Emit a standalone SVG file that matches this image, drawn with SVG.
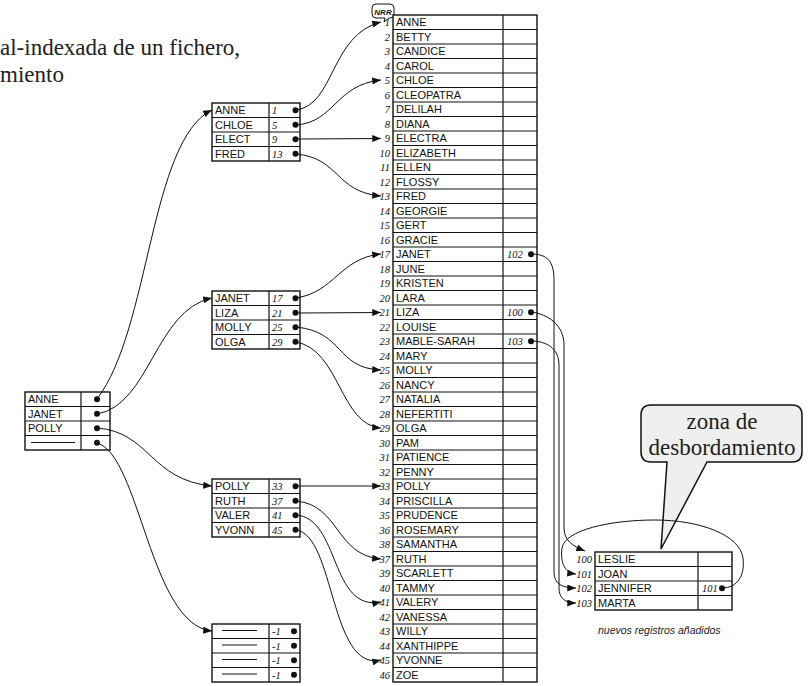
<svg xmlns="http://www.w3.org/2000/svg" width="812" height="686" viewBox="0 0 812 686">
<defs>
<marker id="ah" viewBox="0 0 10 8" refX="10" refY="4" markerWidth="9" markerHeight="7" orient="auto" markerUnits="userSpaceOnUse"><path d="M0,0 L10,4 L0,8 z" fill="#111"/></marker>
<style>
.t{fill:#fff;stroke:#111;stroke-width:1.4}
.l{fill:none;stroke:#111;stroke-width:1.2}
.nm{font-family:"Liberation Sans",Arial,sans-serif;font-size:11px;fill:#111}
.nu{font-family:"Liberation Serif","Times New Roman",serif;font-style:italic;font-size:10.5px;fill:#111}
.ne{text-anchor:end}
.c{fill:none;stroke:#111;stroke-width:1;marker-end:url(#ah)}
.d{fill:#111}
.big{font-family:"Liberation Serif","Times New Roman",serif;font-size:23px;fill:#222}
</style>
</defs>
<rect width="812" height="686" fill="#fff"/>
<g id="title">
<text class="big" x="0" y="55">al-indexada de un fichero,</text>
<text class="big" x="0" y="82">miento</text>
</g>
<g id="nrr">
<path d="M376,4 H390 Q394,4 394,8 V14 Q394,18 390,18 H389 L384,22 L385,18 H376 Q372,18 372,14 V8 Q372,4 376,4 Z" fill="#fff" stroke="#111" stroke-width="1"/>
<text x="383" y="14.5" text-anchor="middle" style="font-family:'Liberation Sans',Arial,sans-serif;font-size:8px;font-weight:bold;font-style:italic" fill="#111">NRR</text>
</g>
<g id="main">
<rect class="t" x="393" y="15" width="144" height="667"/>
<path class="l" d="M503,15 V682 M393,29.5 H537 M393,44 H537 M393,58.5 H537 M393,73 H537 M393,87.5 H537 M393,102 H537 M393,116.5 H537 M393,131 H537 M393,145.5 H537 M393,160 H537 M393,174.5 H537 M393,189 H537 M393,203.5 H537 M393,218 H537 M393,232.5 H537 M393,247 H537 M393,261.5 H537 M393,276 H537 M393,290.5 H537 M393,305 H537 M393,319.5 H537 M393,334 H537 M393,348.5 H537 M393,363 H537 M393,377.5 H537 M393,392 H537 M393,406.5 H537 M393,421 H537 M393,435.5 H537 M393,450 H537 M393,464.5 H537 M393,479 H537 M393,493.5 H537 M393,508 H537 M393,522.5 H537 M393,537 H537 M393,551.5 H537 M393,566 H537 M393,580.5 H537 M393,595 H537 M393,609.5 H537 M393,624 H537 M393,638.5 H537 M393,653 H537 M393,667.5 H537"/>
<g class="nu ne">
<text x="390" y="26">1</text><text x="390" y="40.5">2</text><text x="390" y="55">3</text><text x="390" y="69.5">4</text><text x="390" y="84">5</text><text x="390" y="98.5">6</text><text x="390" y="113">7</text><text x="390" y="127.5">8</text><text x="390" y="142">9</text><text x="390" y="156.5">10</text><text x="390" y="171">11</text><text x="390" y="185.5">12</text><text x="390" y="200">13</text><text x="390" y="214.5">14</text><text x="390" y="229">15</text><text x="390" y="243.5">16</text><text x="390" y="258">17</text><text x="390" y="272.5">18</text><text x="390" y="287">19</text><text x="390" y="301.5">20</text><text x="390" y="316">21</text><text x="390" y="330.5">22</text><text x="390" y="345">23</text><text x="390" y="359.5">24</text><text x="390" y="374">25</text><text x="390" y="388.5">26</text><text x="390" y="403">27</text><text x="390" y="417.5">28</text><text x="390" y="432">29</text><text x="390" y="446.5">30</text><text x="390" y="461">31</text><text x="390" y="475.5">32</text><text x="390" y="490">33</text><text x="390" y="504.5">34</text><text x="390" y="519">35</text><text x="390" y="533.5">36</text><text x="390" y="548">38</text><text x="390" y="562.5">37</text><text x="390" y="577">39</text><text x="390" y="591.5">40</text><text x="390" y="606">41</text><text x="390" y="620.5">42</text><text x="390" y="635">43</text><text x="390" y="649.5">44</text><text x="390" y="664">45</text><text x="390" y="678.5">46</text>
</g>
<g class="nm">
<text x="396" y="26">ANNE</text><text x="396" y="40.5">BETTY</text><text x="396" y="55">CANDICE</text><text x="396" y="69.5">CAROL</text><text x="396" y="84">CHLOE</text><text x="396" y="98.5">CLEOPATRA</text><text x="396" y="113">DELILAH</text><text x="396" y="127.5">DIANA</text><text x="396" y="142">ELECTRA</text><text x="396" y="156.5">ELIZABETH</text><text x="396" y="171">ELLEN</text><text x="396" y="185.5">FLOSSY</text><text x="396" y="200">FRED</text><text x="396" y="214.5">GEORGIE</text><text x="396" y="229">GERT</text><text x="396" y="243.5">GRACIE</text><text x="396" y="258">JANET</text><text x="396" y="272.5">JUNE</text><text x="396" y="287">KRISTEN</text><text x="396" y="301.5">LARA</text><text x="396" y="316">LIZA</text><text x="396" y="330.5">LOUISE</text><text x="396" y="345">MABLE-SARAH</text><text x="396" y="359.5">MARY</text><text x="396" y="374">MOLLY</text><text x="396" y="388.5">NANCY</text><text x="396" y="403">NATALIA</text><text x="396" y="417.5">NEFERTITI</text><text x="396" y="432">OLGA</text><text x="396" y="446.5">PAM</text><text x="396" y="461">PATIENCE</text><text x="396" y="475.5">PENNY</text><text x="396" y="490">POLLY</text><text x="396" y="504.5">PRISCILLA</text><text x="396" y="519">PRUDENCE</text><text x="396" y="533.5">ROSEMARY</text><text x="396" y="548">SAMANTHA</text><text x="396" y="562.5">RUTH</text><text x="396" y="577">SCARLETT</text><text x="396" y="591.5">TAMMY</text><text x="396" y="606">VALERY</text><text x="396" y="620.5">VANESSA</text><text x="396" y="635">WILLY</text><text x="396" y="649.5">XANTHIPPE</text><text x="396" y="664">YVONNE</text><text x="396" y="678.5">ZOE</text>
</g>
<text class="nu" x="507" y="258">102</text><circle class="d" cx="531" cy="254.25" r="3"/>
<text class="nu" x="507" y="316">100</text><circle class="d" cx="531" cy="312.25" r="3"/>
<text class="nu" x="507" y="345">103</text><circle class="d" cx="531" cy="341.25" r="3"/>
</g>
<g id="root-index">
<rect class="t" x="25" y="392" width="85" height="58"/>
<path class="l" d="M81,392 V450 M25,406.5 H110 M25,421 H110 M25,435.5 H110"/>
<text class="nm" x="28" y="403">ANNE</text>
<text class="nm" x="28" y="417.5">JANET</text>
<text class="nm" x="28" y="432">POLLY</text>
<line x1="31" y1="442.5" x2="75" y2="442.5" stroke="#111" stroke-width="1"/>
<circle class="d" cx="97" cy="399.25" r="3"/><circle class="d" cx="97" cy="413.75" r="3"/><circle class="d" cx="97" cy="428.25" r="3"/><circle class="d" cx="97" cy="442.75" r="3"/>
</g>
<g id="index-1">
<rect class="t" x="212" y="103" width="88" height="58"/>
<path class="l" d="M269,103 V161 M212,117.5 H300 M212,132 H300 M212,146.5 H300"/>
<text class="nm" x="215" y="114">ANNE</text><text class="nm" x="215" y="128.5">CHLOE</text><text class="nm" x="215" y="143">ELECT</text><text class="nm" x="215" y="157.5">FRED</text>
<text class="nu" x="272" y="114">1</text><text class="nu" x="272" y="128.5">5</text><text class="nu" x="272" y="143">9</text><text class="nu" x="272" y="157.5">13</text>
<circle class="d" cx="295.5" cy="110.25" r="3"/><circle class="d" cx="295.5" cy="124.75" r="3"/><circle class="d" cx="295.5" cy="139.25" r="3"/><circle class="d" cx="295.5" cy="153.75" r="3"/>
</g>
<g id="index-2">
<rect class="t" x="212" y="291" width="88" height="58"/>
<path class="l" d="M269,291 V349 M212,305.5 H300 M212,320 H300 M212,334.5 H300"/>
<text class="nm" x="215" y="302">JANET</text><text class="nm" x="215" y="316.5">LIZA</text><text class="nm" x="215" y="331">MOLLY</text><text class="nm" x="215" y="345.5">OLGA</text>
<text class="nu" x="272" y="302">17</text><text class="nu" x="272" y="316.5">21</text><text class="nu" x="272" y="331">25</text><text class="nu" x="272" y="345.5">29</text>
<circle class="d" cx="295.5" cy="298.25" r="3"/><circle class="d" cx="295.5" cy="312.75" r="3"/><circle class="d" cx="295.5" cy="327.25" r="3"/><circle class="d" cx="295.5" cy="341.75" r="3"/>
</g>
<g id="index-3">
<rect class="t" x="212" y="479" width="88" height="58"/>
<path class="l" d="M269,479 V537 M212,493.5 H300 M212,508 H300 M212,522.5 H300"/>
<text class="nm" x="215" y="490">POLLY</text><text class="nm" x="215" y="504.5">RUTH</text><text class="nm" x="215" y="519">VALER</text><text class="nm" x="215" y="533.5">YVONN</text>
<text class="nu" x="272" y="490">33</text><text class="nu" x="272" y="504.5">37</text><text class="nu" x="272" y="519">41</text><text class="nu" x="272" y="533.5">45</text>
<circle class="d" cx="295.5" cy="486.25" r="3"/><circle class="d" cx="295.5" cy="500.75" r="3"/><circle class="d" cx="295.5" cy="515.25" r="3"/><circle class="d" cx="295.5" cy="529.75" r="3"/>
</g>
<g id="index-4">
<rect class="t" x="212" y="624" width="88" height="58"/>
<path class="l" d="M269,624 V682 M212,638.5 H300 M212,653 H300 M212,667.5 H300"/>
<path d="M222,630.5 H257 M222,645 H257 M222,659.5 H257 M222,674 H257" stroke="#111" stroke-width="1"/>
<text class="nu" x="272" y="635">-1</text><text class="nu" x="272" y="649.5">-1</text><text class="nu" x="272" y="664">-1</text><text class="nu" x="272" y="678.5">-1</text>
<circle class="d" cx="294" cy="631.25" r="3"/><circle class="d" cx="294" cy="645.75" r="3"/><circle class="d" cx="294" cy="660.25" r="3"/><circle class="d" cx="294" cy="674.75" r="3"/>
</g>
<g id="overflow">
<rect class="t" x="595" y="552" width="137" height="58"/>
<path class="l" d="M698,552 V610 M595,566.5 H732 M595,581 H732 M595,595.5 H732"/>
<text class="nu ne" x="592" y="563">100</text><text class="nu ne" x="592" y="577.5">101</text><text class="nu ne" x="592" y="592">102</text><text class="nu ne" x="592" y="606.5">103</text>
<text class="nm" x="598" y="563">LESLIE</text><text class="nm" x="598" y="577.5">JOAN</text><text class="nm" x="598" y="592">JENNIFER</text><text class="nm" x="598" y="606.5">MARTA</text>
<text class="nu" x="702" y="592">101</text><circle class="d" cx="722" cy="588.25" r="3"/>
<text x="598" y="634" style="font-family:'Liberation Sans',Arial,sans-serif;font-size:10.5px;font-style:italic" fill="#222">nuevos registros añadidos</text>
</g>
<g id="callout">
<path d="M651,405 H792 Q802,405 802,415 V452 Q802,462 792,462 H707 L661,549 L667,462 H651 Q641,462 641,452 V415 Q641,405 651,405 Z" fill="#efefef" stroke="#111" stroke-width="1.5"/>
<text class="big" x="722" y="429" text-anchor="middle">zona de</text>
<text class="big" x="722" y="455" text-anchor="middle">desbordamiento</text>
</g>
<g id="connectors">
<path class="c" d="M97,399 C150,330 150,140 212,110"/>
<path class="c" d="M97,414 C150,405 155,310 212,298"/>
<path class="c" d="M97,428 C150,432 150,480 212,486"/>
<path class="c" d="M97,443 C140,455 150,625 212,631"/>
<path class="c" d="M296,110 C335,105 330,35 381,22"/>
<path class="c" d="M296,125 C335,122 335,85 381,80"/>
<path class="c" d="M296,139 L381,138.5"/>
<path class="c" d="M296,154 C340,158 335,192 381,196"/>
<path class="c" d="M296,298 C335,292 340,258 381,254"/>
<path class="c" d="M296,313 L381,312.5"/>
<path class="c" d="M296,327 C345,332 335,368 381,370"/>
<path class="c" d="M296,342 C340,350 340,425 381,428"/>
<path class="c" d="M296,486 L381,486"/>
<path class="c" d="M296,501 C340,505 335,555 381,559"/>
<path class="c" d="M296,515 C340,518 330,612 381,602"/>
<path class="c" d="M296,530 C335,535 330,672 381,660"/>
<path class="c" d="M531,254 C548,254 554,262 554,280 L554,572 C554,584 562,588 576,588"/>
<path class="c" d="M531,312 C548,314 564,325 564,345 L564,528 C564,540 572,546 585,551"/>
<path class="c" d="M531,341 C546,341 559,348 559,365 L559,588 C559,598 565,603 576,603"/>
<path class="c" d="M722,588 C738,588 745,575 743,558 C740,535 700,520 655,520 C610,520 565,530 562,548 C560,565 566,573 576,574"/>
</g>
</svg>
